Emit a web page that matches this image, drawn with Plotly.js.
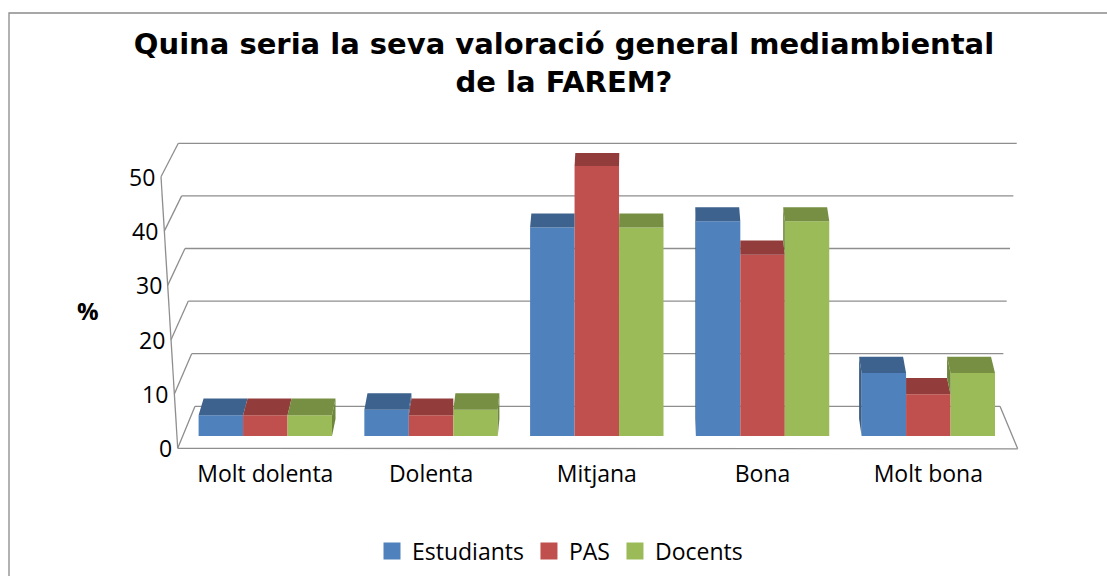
<!DOCTYPE html>
<html><head><meta charset="utf-8">
<script src="https://cdn.plot.ly/plotly-3.0.1.min.js"></script>
<style>html,body{margin:0;padding:0;background:#fff;}#chart{width:1107px;height:576px;}</style>
</head><body><div id="chart"></div>
<script>
// ---- data ----
const categories = ['Molt dolenta', 'Dolenta', 'Mitjana', 'Bona', 'Molt bona'];
const seriesNames = ['Estudiants', 'PAS', 'Docents'];
const estudiants = [3.9, 4.9, 39.0, 40.2, 11.8];
const pas = [3.9, 3.9, 50.5, 33.9, 7.8];
const docents = [3.9, 4.9, 39.0, 40.2, 11.8];
const yTicks = [0, 10, 20, 30, 40, 50];
const yTickLabels = ['0', '10', '20', '30', '40', '50'];

// ---- style ----
const frontColors = ['#4F81BD', '#C0504D', '#9BBB59'];
const capColors = ['#3D628E', '#923C3B', '#768F42'];
const sideColors = ['#3A5D87', '#8A3837', '#6D863B'];
const W = 1107, H = 576;
const plotL = 100, plotR = 1060, plotT = 120, plotB = 458;
const X0 = 265.3, SX = 165.75;      // pixel of category 0, px per category
const Y0 = 436, SY = 5.345;         // pixel of value 0, px per unit
const bargap = 0.195;
const KX = 0.0113, VX = 642, KY = 0.01436, VY = -748; // depth offset of bars
const gridColor = '#8E8E8E';

const values = [estudiants, pas, docents];
const xr = [(plotL - X0) / SX, (plotR - X0) / SX];
const yr = [(Y0 - plotB) / SY, (Y0 - plotT) / SY];
const pxX = d => X0 + d * SX, pxY = v => Y0 - v * SY;
const dX = p => (p - X0) / SX, dY = p => (Y0 - p) / SY;
const back = (x, y) => [x + KX * (VX - x), y + KY * (VY - y)];

const traces = [];
// front faces
values.forEach((vals, j) => {
  traces.push({type: 'bar', x: categories.map((c, i) => i), y: vals, name: seriesNames[j],
    marker: {color: frontColors[j], line: {width: 0}}, showlegend: false, hoverinfo: 'skip'});
});
// caps and side faces
const bw = (1 - bargap) / 3;
function poly(pts, color) {
  traces.push({type: 'scatter', mode: 'lines', x: pts.map(p => dX(p[0])), y: pts.map(p => dY(p[1])),
    fill: 'toself', fillcolor: color, line: {width: 0, color: color}, showlegend: false, hoverinfo: 'skip'});
}
categories.forEach((c, i) => {
  for (let j = 0; j < 3; j++) {
    const v = values[j][i];
    const xl = pxX(i + (j - 1.5) * bw), xrr = pxX(i + (j - 0.5) * bw);
    const t = pxY(v);
    const s = KX * (VX - (xl + xrr) / 2);
    // side face
    if (Math.abs(s) > 0.6) {
      const X = s > 0 ? xrr : xl;
      const nj = s > 0 ? j + 1 : j - 1;
      let lower = Y0, draw = true;
      if (nj >= 0 && nj < 3) {
        const nv = values[nj][i];
        if (nv >= v) draw = false; else lower = pxY(nv);
      }
      if (draw) poly([[X, t], back(X, t), back(X, lower), [X, lower]], sideColors[j]);
    }
    // cap
    let bl = back(xl, t), br = back(xrr, t);
    if (s > 0 && j < 2 && values[j + 1][i] > v) br = [xrr, br[1]];
    if (s < 0 && j > 0 && values[j - 1][i] > v) bl = [xl, bl[1]];
    poly([[xl, t], [xrr, t], br, bl], capColors[j]);
  }
});
// legend entries
seriesNames.forEach((n, j) => {
  traces.push({type: 'scatter', mode: 'markers', x: [null], y: [null], name: n,
    marker: {symbol: 'square', size: 15, color: frontColors[j], line: {width: 2, color: frontColors[j]}}, hoverinfo: 'skip'});
});

// walls (pixel geometry from tick values)
const F = v => [177.7 - 0.334 * v, 448.3 - 5.43 * v];
const BL = v => [195 - 0.334 * v, 406.3 - 5.26 * v];
const BR = v => [1000 + 0.334 * v, 406.3 - 5.26 * v];
const FR = [1017.7, 448.8];
const shapes = [];
function line(a, b) {
  shapes.push({type: 'line', xref: 'paper', yref: 'paper', layer: 'below',
    x0: a[0] / W, y0: 1 - a[1] / H, x1: b[0] / W, y1: 1 - b[1] / H,
    line: {color: gridColor, width: 1.3}});
}
const vmax = yTicks[yTicks.length - 1];
line(F(0), F(vmax));
yTicks.forEach(v => { line(F(v), BL(v)); line(BL(v), BR(v)); });
line(F(0), FR);
line(BR(0), FR);
// chart border
shapes.push({type: 'rect', xref: 'paper', yref: 'paper', layer: 'below',
  x0: 9 / W, y0: 1 - 13 / H, x1: 1130 / W, y1: 1 - 600 / H, line: {color: '#8A8A8A', width: 1.3}});

const annotations = yTicks.map((v, k) => ({xref: 'paper', yref: 'paper', x: (F(v)[0] - 4) / W, y: 1 - F(v)[1] / H,
  xanchor: 'right', yanchor: 'middle', showarrow: false, text: yTickLabels[k],
  font: {family: 'Open Sans', size: 23, color: '#000'}}));
annotations.push({xref: 'paper', yref: 'paper', x: 88 / W, y: 1 - 310 / H, xanchor: 'center', yanchor: 'middle',
  showarrow: false, text: '<b>%</b>', font: {family: 'Open Sans', size: 24, color: '#000'}});

const layout = {
  width: W, height: H, margin: {l: 0, r: 0, t: 0, b: 0},
  paper_bgcolor: '#fff', plot_bgcolor: 'rgba(0,0,0,0)',
  title: {text: '<b>Quina seria la seva valoració general mediambiental<br>de la FAREM?</b>',
    font: {family: 'DejaVu Sans', size: 29, color: '#000'}, x: 564 / W, xanchor: 'center', xref: 'paper',
    y: 1 - 54 / H, yanchor: 'top', yref: 'container'},
  barmode: 'group', bargap: bargap, bargroupgap: 0,
  xaxis: {domain: [plotL / W, plotR / W], range: xr, tickvals: categories.map((c, i) => i), ticktext: categories,
    showgrid: false, zeroline: false, showline: false, ticks: '', fixedrange: true,
    tickfont: {family: 'Open Sans', size: 23, color: '#000'}},
  yaxis: {domain: [1 - plotB / H, 1 - plotT / H], range: yr, showgrid: false, zeroline: false, showline: false,
    showticklabels: false, ticks: '', fixedrange: true},
  legend: {orientation: 'h', x: 560 / W, xanchor: 'center', y: 1 - 551 / H, yanchor: 'middle',
    font: {family: 'Open Sans', size: 23, color: '#000'}, bgcolor: 'rgba(0,0,0,0)'},
  shapes: shapes, annotations: annotations, hovermode: false
};
Plotly.newPlot('chart', traces, layout, {displayModeBar: false, staticPlot: true});
</script></body></html>
